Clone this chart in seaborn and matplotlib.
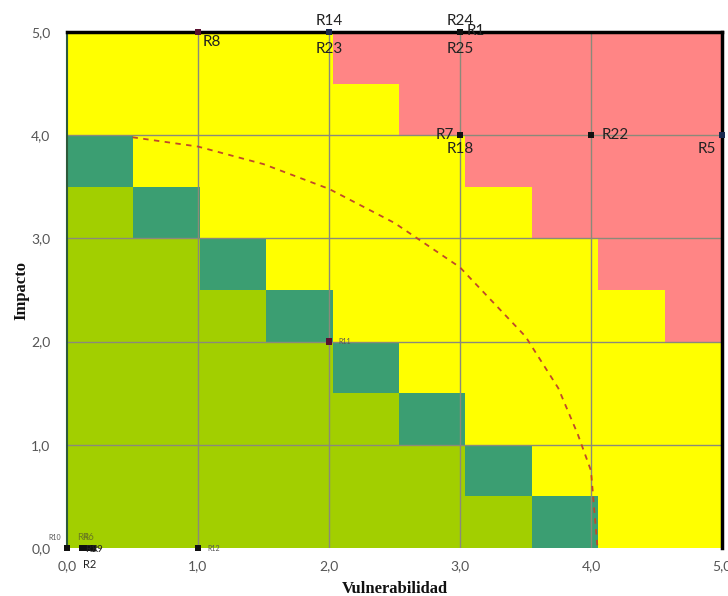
import numpy as np
import pandas as pd
import matplotlib
matplotlib.use("Agg")
import matplotlib.pyplot as plt
from matplotlib.colors import ListedColormap
import seaborn as sns

# zone map, top row first (each row 0.5 of impacto, each column ~0.5 of vulnerabilidad)
# G = bajo, T = diagonal, Y = medio, P = alto
zone_rows = [
    "YYYYPPPPPP",
    "YYYYYPPPPP",
    "TYYYYYPPPP",
    "GTYYYYYPPP",
    "GGTYYYYYPP",
    "GGGTYYYYYP",
    "GGGGTYYYYY",
    "GGGGGTYYYY",
    "GGGGGGTYYY",
    "GGGGGGGTYY",
]
zone_codes = ["G", "T", "Y", "P"]
zone_colors = ["#a2cf00", "#3b9e72", "#ffff00", "#ff8585"]

# risks (vulnerabilidad, impacto)
risk_names = ["R8", "R14", "R23", "R24", "R1", "R25", "R7", "R18", "R22", "R5",
              "R11", "R12", "R10", "R4", "R6", "R3", "R9", "R2"]
risk_x = [1.0, 2.0, 2.0, 3.0, 3.0, 3.0, 3.0, 3.0, 4.0, 5.0,
          2.0, 1.0, 0.0, 0.12, 0.15, 0.18, 0.2, 0.15]
risk_y = [5.0, 5.0, 5.0, 5.0, 5.0, 5.0, 4.0, 4.0, 4.0, 4.0,
          2.0, 0.0, 0.0, 0.0, 0.0, 0.0, 0.0, 0.0]
risk_colors = ["#5a1030", "#1a2a50", "#1a2a50", "#111111", "#111111", "#111111",
               "#111111", "#111111", "#111111", "#1a2a50",
               "#5a1030", "#111111", "#111111", "#111111", "#111111", "#111111",
               "#111111", "#111111"]

# dashed limit curve
arc_x = [0.5, 1.0, 1.5, 2.0, 2.5, 3.0, 3.5, 3.75, 3.9, 4.0, 4.05]
arc_y = [3.98, 3.89, 3.72, 3.48, 3.15, 2.72, 2.05, 1.55, 1.1, 0.75, 0.0]

tick_vals = [0, 1, 2, 3, 4, 5]
tick_labels = ["0,0", "1,0", "2,0", "3,0", "4,0", "5,0"]

# label placement (offset in points, ha, va, fontsize)
label_style = {
    "R8": (3, -2, "left", "top", 11),
    "R14": (0, 3, "center", "bottom", 11),
    "R23": (0, -7, "center", "top", 11),
    "R24": (0, 3, "center", "bottom", 11),
    "R1": (5, 1, "left", "center", 11),
    "R25": (0, -7, "center", "top", 11),
    "R7": (-4, 0, "right", "center", 11),
    "R18": (0, -5, "center", "top", 11),
    "R22": (8, 0, "left", "center", 11),
    "R5": (-4, -5, "right", "top", 11),
    "R11": (7, 0, "left", "center", 5),
    "R12": (7, 0, "left", "center", 5),
    "R10": (-4, 5, "right", "bottom", 5),
    "R4": (0, 4, "center", "bottom", 7),
    "R6": (1, 4, "center", "bottom", 7),
    "R3": (0, -1, "center", "center", 7),
    "R9": (3, -1, "center", "center", 7),
    "R2": (2, -8, "center", "top", 8),
}

sns.set_theme(style="white")
plt.rcParams["font.family"] = ["Lato", "DejaVu Sans"]

fig = plt.figure(figsize=(7.28, 5.96), dpi=100)
ax = fig.add_axes([0.092, 0.0805, 0.8997, 0.8658])

# background zones (columns of the original image run a bit past 5)
grid = np.array([[zone_codes.index(c) for c in row] for row in zone_rows[::-1]])
x_edges = np.linspace(0, 5.07, 11)
y_edges = np.linspace(0, 5, 11)
ax.pcolormesh(x_edges, y_edges, grid, cmap=ListedColormap(zone_colors),
              vmin=-0.5, vmax=3.5, zorder=0)

# grid lines
for v in tick_vals[1:-1]:
    ax.axvline(v, color="#8a8a7a", lw=1, zorder=1)
    ax.axhline(v, color="#8a8a7a", lw=1, zorder=1)

# limit curve
sns.lineplot(x=arc_x, y=arc_y, sort=False, ax=ax, color="#c0482a",
             lw=1.3, linestyle=(0, (3, 3)), zorder=2)

df = pd.DataFrame({"x": risk_x, "y": risk_y, "name": risk_names, "c": risk_colors})
sns.scatterplot(data=df, x="x", y="y", hue="c", palette={c: c for c in set(risk_colors)},
                marker="s", s=22, edgecolor="none", legend=False, ax=ax,
                clip_on=False, zorder=5)

for name, x, y in zip(risk_names, risk_x, risk_y):
    dx, dy, ha, va, fs = label_style[name]
    col = "#6a7a20" if name in ("R4", "R6") else "#222222"
    if name in ("R10", "R11", "R12"):
        col = "#555555"
    ax.annotate(name, (x, y), xytext=(dx, dy), textcoords="offset points",
                ha=ha, va=va, fontsize=fs, color=col, zorder=6,
                annotation_clip=False)

ax.set_xlim(0, 5)
ax.set_ylim(0, 5)
ax.set_xticks(tick_vals)
ax.set_xticklabels(tick_labels)
ax.set_yticks(tick_vals)
ax.set_yticklabels(tick_labels)
ax.tick_params(axis="both", length=0, labelsize=10, labelcolor="#555555")
ax.tick_params(axis="y", pad=12)
ax.tick_params(axis="x", pad=9)

ax.set_xlabel("Vulnerabilidad", family="Liberation Serif", fontweight="bold",
              fontsize=12, color="#111111", labelpad=6)
ax.set_ylabel("Impacto", family="Liberation Serif", fontweight="bold",
              fontsize=12, color="#111111", labelpad=1)

for side in ("top", "right"):
    ax.spines[side].set_color("black")
    ax.spines[side].set_linewidth(2.5)
ax.spines["left"].set_color("#2d5a3a")
ax.spines["left"].set_linewidth(1.5)
ax.spines["bottom"].set_visible(False)

fig.savefig("out.png", dpi=100)
